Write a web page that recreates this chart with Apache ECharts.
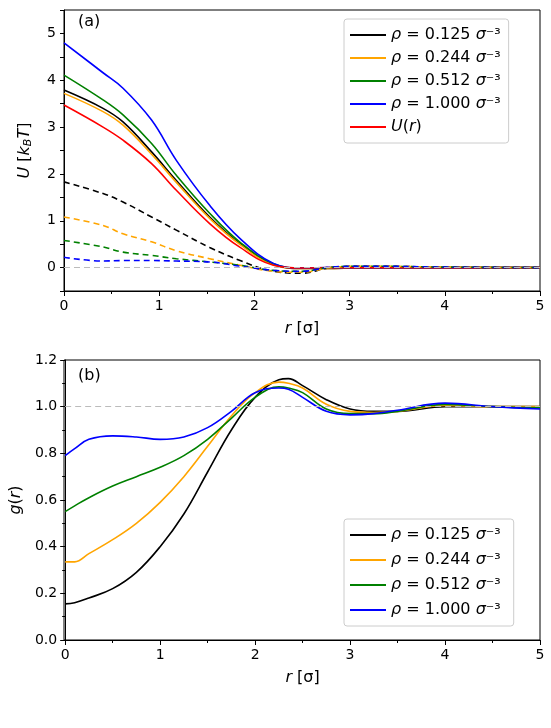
<!DOCTYPE html>
<html>
<head>
<meta charset="utf-8">
<script src="https://cdn.jsdelivr.net/npm/echarts@6/dist/echarts.min.js"></script>
<style>html,body{margin:0;padding:0;background:#fff}#c{width:551px;height:728px}</style>
</head>
<body>
<div id="c"></div>
<script>
// top panel: effective potentials U(r)
var rTop = [0, 0.41, 0.62, 0.92, 1.18, 1.53, 1.85, 2.2, 2.5, 2.8, 3.2, 4, 5];
var uBlack = [3.79, 3.40, 3.11, 2.47, 1.86, 1.08, 0.51, 0.07, -0.02, -0.02, 0, 0, 0];
var uOrange = [3.72, 3.33, 3.04, 2.42, 1.82, 1.05, 0.49, 0.06, -0.02, -0.02, 0, 0, 0];
var uGreen = [4.11, 3.58, 3.26, 2.65, 1.97, 1.16, 0.54, 0.08, -0.01, -0.01, 0, 0, 0];
var uBlue = [4.80, 4.16, 3.83, 3.15, 2.29, 1.33, 0.62, 0.09, -0.01, 0, 0, 0, 0];
var uRed = [3.47, 3.00, 2.72, 2.22, 1.65, 0.94, 0.43, 0.05, -0.01, 0, 0, 0, 0];
var dBlack = [1.83, 1.58, 1.40, 1.08, 0.80, 0.43, 0.15, -0.08, -0.12, 0.0, 0.03, 0.01, 0];
var dOrange = [1.08, 0.90, 0.72, 0.55, 0.36, 0.19, 0.05, -0.08, -0.10, 0.0, 0.03, 0.01, 0];
var dGreen = [0.58, 0.44, 0.33, 0.26, 0.19, 0.12, 0.05, -0.06, -0.08, 0.01, 0.03, 0.01, 0];
var dBlue = [0.22, 0.14, 0.15, 0.15, 0.14, 0.12, 0.03, -0.06, -0.08, 0.01, 0.03, 0.01, 0];

// bottom panel: g(r)
var rBot = [0, 0.1, 0.25, 0.5, 0.75, 1, 1.25, 1.5, 1.75, 2, 2.25, 2.35, 2.5, 2.75, 3, 3.25, 3.5, 4, 4.5, 5];
var gBlack = [0.155, 0.16, 0.18, 0.22, 0.29, 0.40, 0.54, 0.72, 0.90, 1.04, 1.115, 1.12, 1.09, 1.03, 0.99, 0.98, 0.98, 1.0, 1.0, 1.0];
var gOrange = [0.335, 0.335, 0.37, 0.43, 0.50, 0.59, 0.70, 0.83, 0.96, 1.06, 1.105, 1.1, 1.08, 1.01, 0.98, 0.975, 0.98, 1.005, 1.0, 1.0];
var gGreen = [0.55, 0.575, 0.61, 0.66, 0.70, 0.74, 0.79, 0.86, 0.95, 1.04, 1.085, 1.08, 1.06, 0.99, 0.97, 0.97, 0.98, 1.01, 1.0, 0.995];
var gBlue = [0.79, 0.82, 0.86, 0.875, 0.87, 0.86, 0.87, 0.91, 0.98, 1.06, 1.08, 1.075, 1.04, 0.98, 0.965, 0.97, 0.985, 1.015, 1.0, 0.99];

var names = ['ρ = 0.125 σ⁻³', 'ρ = 0.244 σ⁻³', 'ρ = 0.512 σ⁻³', 'ρ = 1.000 σ⁻³'];
var colors = ['#000000', '#ffa500', '#008000', '#0000ff'];

function pts(xs, ys) {
    return xs.map(function (x, i) { return [x, ys[i]]; });
}

function line(name, data, color, gi, dashed) {
    return {
        name: name, type: 'line', xAxisIndex: gi, yAxisIndex: gi,
        data: data, smooth: 0.4, symbol: 'none',
        lineStyle: { color: color, width: 1.6, type: dashed ? [6, 4] : 'solid' },
        itemStyle: { color: color }
    };
}

function refLine(gi, y) {
    return {
        type: 'line', xAxisIndex: gi, yAxisIndex: gi, data: [], silent: true,
        markLine: { symbol: 'none', silent: true, label: { show: false },
            lineStyle: { color: '#bbbbbb', type: [6, 4], width: 1.2 }, data: [{ yAxis: y }] }
    };
}

var font = 'DejaVu Sans';
var lbl = { color: '#000', fontSize: 14, fontFamily: font };
var tick = { lineStyle: { color: '#000' }, length: 5 };
var minor = { show: true, splitNumber: 2, length: 3, lineStyle: { color: '#000' } };
var axLine = { onZero: false, lineStyle: { color: '#000' } };
var italic = { fontStyle: 'italic', fontSize: 16, fontFamily: font };

function xAx(gi) {
    return {
        type: 'value', gridIndex: gi, min: 0, max: 5, interval: 1,
        axisLine: axLine, axisTick: tick, minorTick: minor, axisLabel: lbl, splitLine: { show: false },
        name: '{i|r} [σ]', nameLocation: 'middle', nameGap: 30,
        nameTextStyle: { fontSize: 16, color: '#000', fontFamily: font, rich: { i: italic } }
    };
}

function legendFmt(n) {
    return n.replace('ρ', '{i|ρ}').replace('σ', '{i|σ}').replace('U(r)', '{i|U}({i|r})');
}
var legendText = { fontSize: 16, color: '#000', fontFamily: font, rich: { i: { fontStyle: 'italic', fontSize: 16, fontFamily: font } } };

var series = [
    refLine(0, 0),
    line(names[0], pts(rTop, uBlack), colors[0], 0),
    line(names[1], pts(rTop, uOrange), colors[1], 0),
    line(names[2], pts(rTop, uGreen), colors[2], 0),
    line(names[3], pts(rTop, uBlue), colors[3], 0),
    line('U(r)', pts(rTop, uRed), '#ff0000', 0),
    line('dBlack', pts(rTop, dBlack), colors[0], 0, true),
    line('dOrange', pts(rTop, dOrange), colors[1], 0, true),
    line('dGreen', pts(rTop, dGreen), colors[2], 0, true),
    line('dBlue', pts(rTop, dBlue), colors[3], 0, true),
    refLine(1, 1),
    line(names[0] + ' ', pts(rBot, gBlack), colors[0], 1),
    line(names[1] + ' ', pts(rBot, gOrange), colors[1], 1),
    line(names[2] + ' ', pts(rBot, gGreen), colors[2], 1),
    line(names[3] + ' ', pts(rBot, gBlue), colors[3], 1)
];

var chart = echarts.init(document.getElementById('c'));
chart.setOption({
    animation: false,
    grid: [
        { left: 64, top: 10, width: 476, height: 281 },
        { left: 64, top: 360, width: 476, height: 280 }
    ],
    xAxis: [xAx(0), xAx(1)],
    yAxis: [
        {
            type: 'value', gridIndex: 0, min: -0.5, max: 5.5, interval: 0.5,
            axisLine: axLine, axisTick: { lineStyle: { color: '#000' }, length: 4 }, splitLine: { show: false },
            axisLabel: Object.assign({}, lbl, {
                formatter: function (v) { return Math.abs(v - Math.round(v)) < 1e-6 ? String(Math.round(v)) : ''; }
            }),
            name: '{i|U} [{i|k}{s|B}{i|T}]', nameLocation: 'middle', nameGap: 30,
            nameTextStyle: { fontSize: 16, color: '#000', fontFamily: font,
                rich: { i: italic,
                        s: { fontStyle: 'italic', fontSize: 11, fontFamily: font, padding: [8, 0, 0, 0] } } }
        },
        {
            type: 'value', gridIndex: 1, min: 0, max: 1.2, interval: 0.2,
            axisLine: axLine, axisTick: tick, minorTick: minor, splitLine: { show: false },
            axisLabel: Object.assign({}, lbl, { formatter: function (v) { return v.toFixed(1); } }),
            name: '{i|g}({i|r})', nameLocation: 'middle', nameGap: 38,
            nameTextStyle: { fontSize: 16, color: '#000', fontFamily: font, rich: { i: italic } }
        }
    ],
    legend: [
        { data: names.concat(['U(r)']), orient: 'vertical', left: 344, top: 19,
          itemWidth: 36, itemHeight: 2, itemGap: 7, icon: 'rect', formatter: legendFmt,
          backgroundColor: '#fff', borderColor: '#ccc', borderWidth: 1, borderRadius: 3,
          padding: [8, 8, 8, 6], textStyle: legendText },
        { data: names.map(function (n) { return n + ' '; }), orient: 'vertical', left: 344, top: 519,
          itemWidth: 36, itemHeight: 2, itemGap: 9, icon: 'rect', formatter: legendFmt,
          backgroundColor: '#fff', borderColor: '#ccc', borderWidth: 1, borderRadius: 3,
          padding: [8, 8, 8, 6], textStyle: legendText }
    ],
    graphic: [
        { type: 'text', left: 78, top: 14, style: { text: '(a)', fontSize: 16, fill: '#000', fontFamily: font } },
        { type: 'text', left: 78, top: 368, style: { text: '(b)', fontSize: 16, fill: '#000', fontFamily: font } },
        { type: 'rect', shape: { x: 64, y: 10, width: 476, height: 281 }, style: { fill: 'none', stroke: '#000', lineWidth: 1 }, silent: true },
        { type: 'rect', shape: { x: 64, y: 360, width: 476, height: 280 }, style: { fill: 'none', stroke: '#000', lineWidth: 1 }, silent: true }
    ],
    series: series
});
</script>
</body>
</html>
